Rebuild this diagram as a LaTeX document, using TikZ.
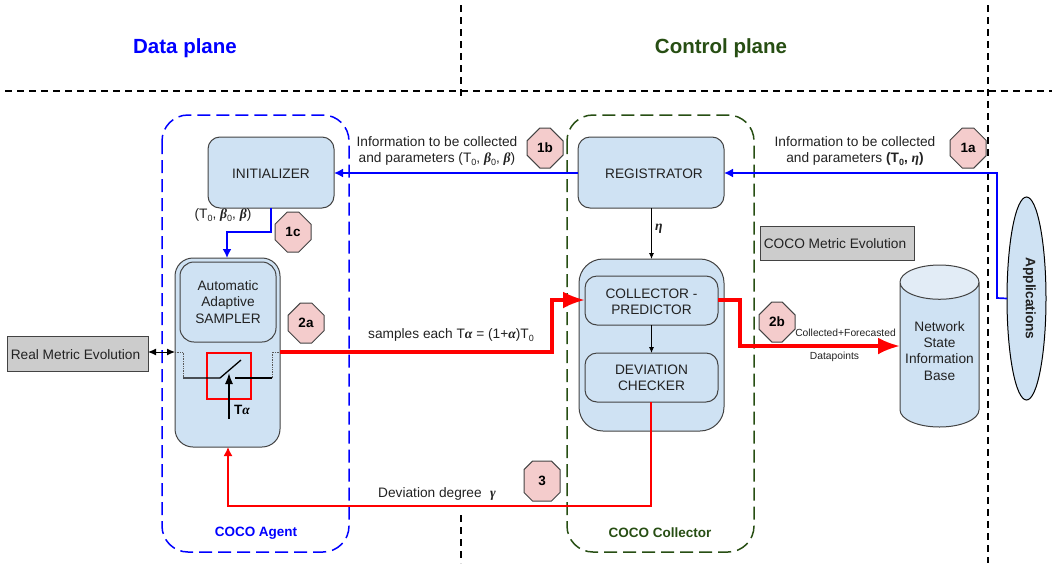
\documentclass[tikz,border=0pt]{standalone}
\usepackage{fontspec}
\setmainfont{Liberation Sans}
\newfontfamily\gkfont{Liberation Serif}
\usetikzlibrary{shapes.geometric,shapes.misc,arrows.meta}
\newcommand{\gk}[1]{{\gkfont\bfseries\itshape #1}}
\newcommand{\sub}[1]{\raisebox{-0.25em}{\fontsize{9}{9}\selectfont #1}}
\definecolor{boxfill}{HTML}{CFE2F3}
\definecolor{boxline}{HTML}{434343}
\definecolor{octfill}{HTML}{F4CCCC}
\definecolor{grayfill}{HTML}{CCCCCC}
\definecolor{dgreen}{HTML}{274E13}
\definecolor{txt}{HTML}{222222}
\definecolor{cylend}{HTML}{E2ECF6}
\tikzset{
  x=1pt,y=-1pt,
  every node/.style={font=\fontsize{13.7}{16.4}\selectfont,text=txt,inner sep=0pt,outer sep=0pt},
  rbox/.style={draw=boxline,fill=boxfill,line width=1pt,rounded corners=#1,anchor=north west},
  rbox/.default=12pt,
  graybox/.style={draw=boxline,fill=grayfill,line width=1pt,anchor=north west},
  octa/.style={chamfered rectangle,chamfered rectangle xsep=10pt,chamfered rectangle ysep=10pt,draw=boxline,fill=octfill,line width=1pt,minimum width=36pt,minimum height=40pt,font=\fontsize{13.5}{16}\selectfont\bfseries,text=black},
  plane/.style={black,line width=1.3pt,dash pattern=on 7pt off 5pt},
  zone/.style={line width=1.5pt,rounded corners=26pt,dash pattern=on 13pt off 6pt},
  thinblue/.style={blue,line width=1.7pt,-{Latex[length=9pt,width=9pt]}},
  thickred/.style={red,line width=3.6pt,-{Latex[length=22pt,width=17pt]},rounded corners=0pt},
  thinred/.style={red,line width=1.5pt,-{Latex[length=9pt,width=9pt]}},
  title/.style={font=\fontsize{20.5}{24}\selectfont\bfseries},
  zonelabel/.style={font=\fontsize{13.5}{16}\selectfont\bfseries},
  lab/.style={align=center},
}
\newcommand{\dn}{\vspace*{2pt}}
\begin{document}
\begin{tikzpicture}
\useasboundingbox (0,0) rectangle (1052,563);
% plane separators
\coordinate (v1a) at (461,5); \coordinate (v1b) at (461,100);
\coordinate (v1c) at (461,515); \coordinate (v1d) at (461,563);
\coordinate (v2a) at (988,5); \coordinate (v2b) at (988,563);
\coordinate (h1a) at (5,91); \coordinate (h1b) at (1052,91);
\draw[plane] (v1a) -- (v1b);
\draw[plane] (v1c) -- (v1d);
\draw[plane] (v2a) -- (v2b);
\draw[plane] (h1a) -- (h1b);
\node[title,text=blue] (dp) at (185,48) {Data plane};
\node[title,text=dgreen] (cp) at (721,48) {Control plane};
% zones
\draw[zone,blue] (162,115) rectangle (349,552);
\draw[zone,dgreen] (567,115) rectangle (754,552);
\node[zonelabel,text=blue] (zl1) at (256,533) {COCO Agent};
\node[zonelabel,text=dgreen] (zl2) at (660,533) {COCO Collector};
% agent
\node[rbox] (init) at (208,137) {\parbox[c][71pt][c]{126pt}{\centering\dn INITIALIZER}};
\node[rbox=18pt] (agent) at (175,258) {\rule{0pt}{189pt}\rule{105pt}{0pt}};
\node[rbox=14pt] (sampler) at (180,262) {\parbox[c][80pt][c]{96pt}{\centering Automatic\\Adaptive\\SAMPLER}};
\node[graybox] (real) at (7,336) {\parbox[c][35pt][c]{141pt}{\centering\dn\hspace*{-4pt}Real Metric Evolution}};
% switch
\node[draw=red,line width=1.3pt,minimum width=44pt,minimum height=46pt,anchor=north west] (sw) at (207,353) {};
\coordinate (inA) at (175,352); \coordinate (inB) at (183,352); \coordinate (inC) at (183,378);
\coordinate (swA) at (220,378); \coordinate (swB) at (241,360);
\coordinate (swC) at (235,378); \coordinate (outC) at (272,378);
\coordinate (outB) at (272,352); \coordinate (outA) at (280,352);
\coordinate (trigA) at (229,419); \coordinate (trigB) at (229,373);
\draw[densely dotted,line width=0.7pt,black!65] (inA) -- (inB) -- (inC);
\draw[densely dotted,line width=0.7pt,black!65] (outC) -- (outB) -- (outA);
\draw[black,line width=1.3pt] (inC) -- (swA) -- (swB);
\draw[black,line width=1.3pt] (swC) -- (outC);
\draw[black,line width=1.3pt,-{Latex[length=11pt,width=8pt]}] (trigA) -- (trigB);
\node[font=\fontsize{13.5}{16}\selectfont\bfseries,text=black] (ta) at (242,410) {T\gk{α}};
\coordinate (realE) at (148,352);
\draw[black,line width=1pt,{Latex[length=8pt,width=7pt]}-{Latex[length=8pt,width=7pt]}] (realE) -- (inA);
% collector
\node[rbox] (reg) at (578,137) {\parbox[c][71pt][c]{146pt}{\centering\dn\hspace*{6pt}REGISTRATOR}};
\node[rbox=24pt] (coll) at (579,259) {\rule{0pt}{172pt}\rule{145pt}{0pt}};
\node[rbox] (pred) at (585,276) {\parbox[c][49pt][c]{133pt}{\centering\dn COLLECTOR -\\[-0.5pt]PREDICTOR}};
\node[rbox] (dev) at (585,353) {\parbox[c][49pt][c]{133pt}{\centering DEVIATION\\[-0.5pt]CHECKER}};
\node[graybox] (cocome) at (760,226) {\parbox[c][34pt][c]{154pt}{\centering\dn\hspace*{-4pt}COCO Metric Evolution}};
\node[cylinder,shape border rotate=90,aspect=0.5,draw=boxline,line width=1pt,cylinder uses custom fill,cylinder body fill=boxfill,cylinder end fill=cylend,minimum height=162pt,minimum width=79pt,align=center,anchor=shape center] (nsib) at (939.5,346) {Network\\State\\Information\\Base\\[-8.4pt]\mbox{}};
\node[ellipse,draw=black,line width=1pt,fill=boxfill,minimum width=39pt,minimum height=203pt] (apps) at (1026.5,298.5) {\hspace*{6pt}\rotatebox{-90}{\bfseries Applications}};
% blue connectors
\coordinate (b1) at (997,298); \coordinate (b2) at (997,173);
\draw[thinblue] (apps.west) -- (b1) -- (b2) -- (reg.east |- b2);
\draw[thinblue] (reg.west |- b2) -- (init.east |- b2);
\coordinate (b3) at (271,232); \coordinate (b4) at (227,232);
\draw[thinblue] (init.south -| b3) -- (b3) -- (b4) -- (agent.north -| b4);
% eta
\draw[black,line width=0.8pt,-{Latex[length=6pt,width=5pt]}] (reg.south -| coll.north) -- (coll.north);
\draw[black,line width=0.8pt,-{Latex[length=6pt,width=5pt]}] (pred.south) -- (dev.north);
% red connectors
\coordinate (r1) at (552,352); \coordinate (r2) at (552,300);
\draw[thickred] (outA) -- (r1) -- (r2) -- (pred.west |- r2);
\coordinate (r3) at (740,300); \coordinate (r4) at (740,346);
\draw[thickred] (pred.east |- r3) -- (r3) -- (r4) -- (nsib.west |- r4);
\coordinate (r5) at (651,506); \coordinate (r6) at (228,506);
\draw[thinred] (dev.south -| r5) -- (r5) -- (r6) -- (agent.south -| r6);
% octagons
\node[octa] (o1b) at (545,148) {1b};
\node[octa] (o1a) at (968,148) {1a};
\node[octa] (o1c) at (293,232) {1c};
\node[octa] (o2a) at (306,323) {2a};
\node[octa] (o2b) at (777,322) {2b};
\node[octa] (o3) at (542,481) {3};
% labels
\node[lab] (l1b) at (437,151) {Information to be collected\\and parameters (T\sub{0}, \gk{β}\sub{0}, \gk{β})};
\node[lab] (l1a) at (855,151) {Information to be collected\\and parameters {\bfseries(T\sub{0}, \gk{η})}};
\node (l1c) at (223,215) {(T\sub{0}, \gk{β}\sub{0}, \gk{β})};
\node (leta) at (659,229) {\gk{η}};
\node (l2a) at (451,335) {samples each T\gk{α} = (1+\gk{α})T\sub{0}};
\node[font=\fontsize{10.3}{12}\selectfont] (l2b1) at (845.5,333) {Collected+Forecasted};
\node[font=\fontsize{10.3}{12}\selectfont] (l2b2) at (834.5,357) {Datapoints};
\node (l3) at (437,494) {Deviation degree\,\, \gk{γ}};
\end{tikzpicture}
\end{document}
